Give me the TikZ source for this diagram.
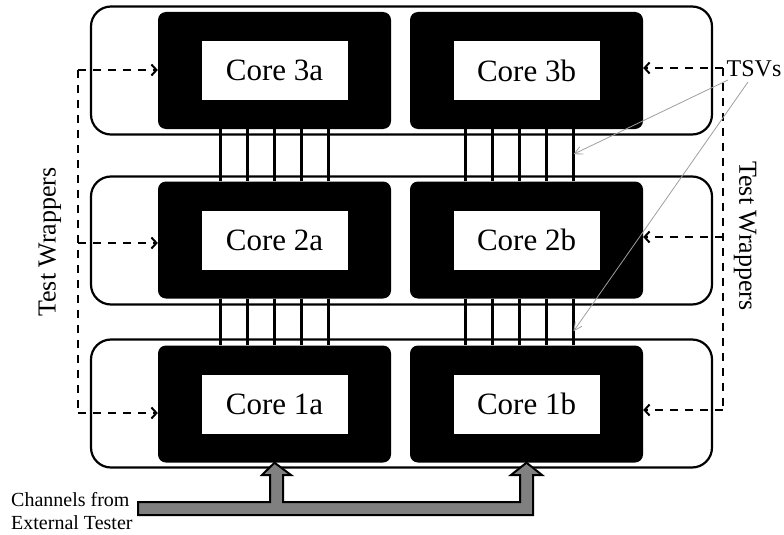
\documentclass[tikz,border=0pt]{standalone}
\usepackage{fontspec}
\setmainfont{Liberation Serif}
\usetikzlibrary{arrows.meta}
\begin{document}
\begin{tikzpicture}[x=1pt,y=-1pt,
  layerbox/.style={draw=black,line width=2.2pt,rounded corners=20pt,fill=white,
    minimum width=621pt,minimum height=128pt,inner sep=0pt},
  corebox/.style={fill=black,rounded corners=8pt,
    minimum width=233pt,minimum height=117pt,inner sep=0pt},
  corelabel/.style={fill=white,minimum width=146pt,minimum height=59pt,inner sep=0pt,
    font=\fontsize{31}{35}\selectfont},
  tsvline/.style={line width=3pt},
  wrapdash/.style={line width=2.2pt,dash pattern=on 8pt off 7pt},
  wraparrow/.style={wrapdash,-{Straight Barb[length=5pt,width=11pt,line width=2pt]}},
  pointer/.style={draw=gray!75,line width=0.8pt,-{Straight Barb[length=8pt,width=8pt]}},
  sidetext/.style={font=\fontsize{26}{30}\selectfont,inner sep=0pt}
]
\useasboundingbox (0,0) rectangle (784,535);

% stacked dies
\node[layerbox] (L3) at (401.5,70.5) {};
\node[layerbox] (L2) at (401.5,240.5) {};
\node[layerbox] (L1) at (401.5,403.5) {};

% cores (black wrapper frames)
\node[corebox] (b3a) at (274.5,70.5) {};
\node[corebox] (b3b) at (526.5,70.5) {};
\node[corebox] (b2a) at (274.5,240) {};
\node[corebox] (b2b) at (526.5,240) {};
\node[corebox] (b1a) at (274.5,404) {};
\node[corebox] (b1b) at (526.5,404) {};

% through-silicon vias between the dies
\foreach \dx in {-54,-27,0,27,54} {
  \draw[tsvline] ([xshift=\dx pt]b3a.south) -- ([xshift=\dx pt]b2a.north);
  \draw[tsvline] ([xshift=\dx pt]b2a.south) -- ([xshift=\dx pt]b1a.north);
}
\foreach \dx in {-61,-34,-7,20,47} {
  \draw[tsvline] ([xshift=\dx pt]b3b.south) -- ([xshift=\dx pt]b2b.north);
  \draw[tsvline] ([xshift=\dx pt]b2b.south) -- ([xshift=\dx pt]b1b.north);
}

% core labels
\node[corelabel] (c3a) at (b3a.center) {Core 3a};
\node[corelabel] (c3b) at (b3b.center) {Core 3b};
\node[corelabel] (c2a) at (b2a.center) {Core 2a};
\node[corelabel] (c2b) at (b2b.center) {Core 2b};
\node[corelabel] (c1a) at (b1a.center) {Core 1a};
\node[corelabel] (c1b) at (b1b.center) {Core 1b};

% test wrapper access, left side
\coordinate (lA) at (78,70);
\coordinate (lB) at (78,243);
\coordinate (lC) at (78,413);
\draw[wrapdash] (lA) -- (lC);
\draw[wraparrow] (lA) -- (lA -| b3a.west);
\draw[wraparrow] (lB) -- (lB -| b2a.west);
\draw[wraparrow] (lC) -- (lC -| b1a.west);

% test wrapper access, right side
\coordinate (rA) at (723,68);
\coordinate (rB) at (723,237);
\coordinate (rC) at (723,410);
\draw[wrapdash] (rA) -- (rC);
\draw[wraparrow] (rA) -- (rA -| b3b.east);
\draw[wraparrow] (rB) -- (rB -| b2b.east);
\draw[wraparrow] (rC) -- (rC -| b1b.east);

\node[sidetext,rotate=90] (twl) at (50,242) {Test Wrappers};
\node[sidetext,rotate=-90] (twr) at (745,236) {Test Wrappers};

% TSV callout
\node[font=\fontsize{24}{28}\selectfont,inner sep=0pt] (tsv) at (754,69) {TSVs};
\coordinate (t1) at ([xshift=47pt,yshift=-25pt]b3b.south);
\coordinate (t2) at ([xshift=47pt,yshift=14pt]b1b.north);
\draw[pointer] ([xshift=-26pt,yshift=-11pt]tsv.center) -- (t1);
\draw[pointer] ([xshift=-6pt,yshift=-13pt]tsv.center) -- (t2);

% tester channel bus
\draw[fill=black!50,line width=2pt,line join=miter]
  (138,502) -- (270,502) -- (270,475) -- (262,475) -- (b1a.south)
  -- (291,475) -- (283,475) -- (283,502) -- (520,502) -- (520,475)
  -- (511,475) -- (b1b.south) -- (542,475) -- (533,475) -- (533,515)
  -- (138,515) -- cycle;

\node[font=\fontsize{20}{23.5}\selectfont,align=left,anchor=west,inner sep=0pt]
  (chan) at (11,511) {Channels from\\External Tester};
\end{tikzpicture}
\end{document}
